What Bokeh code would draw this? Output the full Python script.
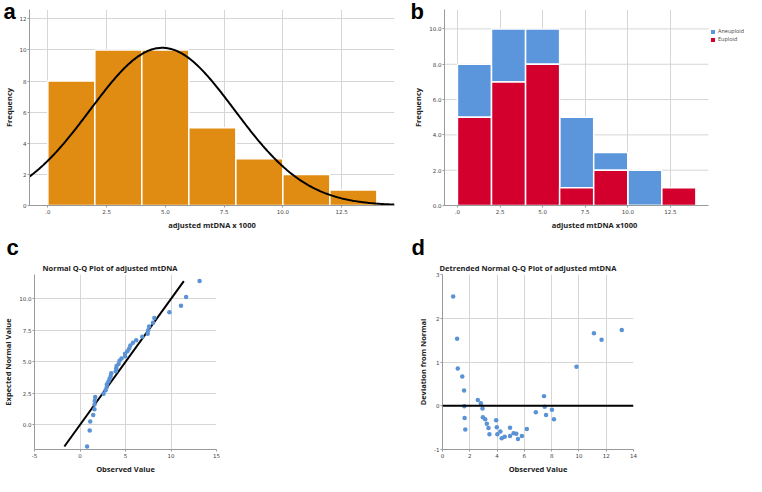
import numpy as np
from bokeh.plotting import figure
from bokeh.models import Legend, LegendItem, FixedTicker, Span, Title
from bokeh.layouts import column, row
from bokeh.embed import file_html
from bokeh.resources import INLINE

# ---------------- data ----------------
bin_lefts = [0, 2, 4, 6, 8, 10, 12]
bin_width = 2
freq_all = [8, 10, 10, 5, 3, 2, 1]
freq_euploid = [5, 7, 8, 1, 2, 0, 1]
freq_aneuploid = [3, 3, 2, 4, 1, 2, 0]
fit_mean = 4.87
fit_sd = 3.07
n_total = 39

observed = [0.78, 1.07, 1.12, 1.45, 1.58, 1.60, 1.62, 1.67, 2.59, 2.81,
            2.93, 2.96, 3.13, 3.25, 3.37, 3.44, 3.93, 3.98, 4.02, 4.24,
            4.34, 4.56, 4.95, 4.95, 5.21, 5.41, 5.53, 5.82, 6.18, 6.84,
            7.44, 7.49, 7.59, 8.02, 8.17, 9.82, 11.10, 11.66, 13.14]
expected = [-1.72, -0.46, 0.27, 0.78, 1.23, 1.61, 1.90, 2.21, 2.46, 2.75,
            2.99, 3.22, 3.44, 3.66, 3.88, 4.09, 4.26, 4.47, 4.67, 4.83,
            5.08, 5.27, 5.45, 5.64, 5.84, 6.05, 6.29, 6.51, 6.71, 6.99,
            7.22, 7.51, 7.80, 8.11, 8.48, 8.93, 9.44, 10.15, 11.41]
deviation = [2.50, 1.53, 0.85, 0.67, 0.35, -0.01, -0.28, -0.54, 0.13, 0.06,
             -0.06, -0.26, -0.31, -0.41, -0.51, -0.65, -0.33, -0.49, -0.65, -0.59,
             -0.74, -0.71, -0.50, -0.69, -0.63, -0.64, -0.76, -0.69, -0.53, -0.15,
             0.22, -0.02, -0.21, -0.09, -0.31, 0.89, 1.66, 1.51, 1.73]

hist_xticks = [0, 2.5, 5, 7.5, 10, 12.5]
hist_xlabels = [".0", "2.5", "5.0", "7.5", "10.0", "12.5"]
a_yticks = [0, 2, 4, 6, 8, 10, 12]
a_ylabels = ["0", "2", "4", "6", "8", "10", "12"]
b_yticks = [0, 2, 4, 6, 8, 10]
b_ylabels = ["0.0", "2.0", "4.0", "6.0", "8.0", "10.0"]
c_xticks = [-5, 0, 5, 10, 15]
c_xlabels = ["-5", "0", "5", "10", "15"]
c_yticks = [0, 2.5, 5, 7.5, 10]
c_ylabels = ["0.0", "2.5", "5.0", "7.5", "10.0"]
d_xticks = [0, 2, 4, 6, 8, 10, 12, 14]
d_xlabels = ["0", "2", "4", "6", "8", "10", "12", "14"]
d_yticks = [-1, 0, 1, 2, 3]
d_ylabels = ["-1", "0", "1", "2", "3"]

ORANGE = "#E08C12"
BLUE = "#5B96DD"
RED = "#D3002E"
PT = "#5A92D6"
GRID = "#D6D6D6"
AXIS = "#9A9A9A"
LABEL_FONT = "Open Sans"
TICK_FONT = "DejaVu Sans"


def style(p, xt, xl, yt, yl, xlabel, ylabel):
    xtk = FixedTicker(ticks=xt)
    ytk = FixedTicker(ticks=yt)
    p.xaxis.ticker = xtk
    p.yaxis.ticker = ytk
    p.xgrid.ticker = xtk
    p.ygrid.ticker = ytk
    p.xaxis.major_label_overrides = {t: l for t, l in zip(xt, xl)}
    p.yaxis.major_label_overrides = {t: l for t, l in zip(yt, yl)}
    for ax in (p.xaxis, p.yaxis):
        ax.axis_line_color = AXIS
        ax.axis_line_width = 1
        ax.major_tick_line_color = AXIS
        ax.major_tick_out = 2
        ax.major_tick_in = 0
        ax.minor_tick_line_color = None
        ax.major_label_text_font = TICK_FONT
        ax.major_label_text_font_size = "5.5px"
        ax.major_label_text_color = "#444444"
        ax.major_label_text_line_height = 1.0
        ax.major_label_standoff = 1
        ax.axis_label_text_font = LABEL_FONT
        ax.axis_label_text_font_size = "7.5px"
        ax.axis_label_text_font_style = "bold"
        ax.axis_label_text_color = "#222222"
        ax.axis_label_text_line_height = 1.0
        ax.axis_label_standoff = 3
    p.xaxis.axis_label = xlabel
    p.yaxis.axis_label = ylabel
    p.xgrid.grid_line_color = GRID
    p.ygrid.grid_line_color = GRID
    p.outline_line_color = None
    p.background_fill_color = "white"
    p.border_fill_color = "white"


def letter(p, txt, offset, standoff):
    p.title.text = txt
    p.title.align = "left"
    p.title.offset = offset
    p.title.standoff = standoff
    p.title.text_font = "Liberation Sans"
    p.title.text_font_style = "bold"
    p.title.text_font_size = "22px"
    p.title.text_color = "black"


def chart_title(p, txt, align, offset):
    p.add_layout(Title(text=txt, align=align, offset=offset, standoff=3,
                       text_font=LABEL_FONT, text_font_style="bold",
                       text_font_size="7.5px", text_color="#222222"), "above")


common = dict(output_backend="svg", toolbar_location=None)

# ---------------- panel a ----------------
pa = figure(width=400, height=232, x_range=(-0.78, 14.75), y_range=(0, 12.6),
            min_border_left=26, min_border_right=6, min_border_top=9,
            min_border_bottom=24, **common)
style(pa, hist_xticks, hist_xlabels, a_yticks, a_ylabels,
      "adjusted mtDNA x 1000", "Frequency")
lefts = np.array(bin_lefts, dtype=float)
pa.quad(left=lefts, right=lefts + bin_width, bottom=0, top=freq_all,
        fill_color=ORANGE, line_color="white", line_width=1.5)
cx = np.linspace(pa.x_range.start, pa.x_range.end, 300)
cy = n_total * bin_width * np.exp(-0.5 * ((cx - fit_mean) / fit_sd) ** 2) / (fit_sd * np.sqrt(2 * np.pi))
pa.line(cx, cy, line_color="black", line_width=2)
letter(pa, "a", -26, -29)

# ---------------- panel b ----------------
# the frame is widened to the right to host the legend; the visible data
# area is -0.76 .. 14.74 (b_data_px), the extra pixels hold the legend
b_x0, b_x1 = -0.76, 14.74
b_data_px, b_frame_px = 264, 300
b_xend = b_x0 + (b_x1 - b_x0) * b_frame_px / b_data_px
pb = figure(width=344, height=232, x_range=(b_x0, b_xend), y_range=(0, 11.1),
            min_border_left=44, min_border_right=0, min_border_top=9,
            min_border_bottom=24, **common)
style(pb, hist_xticks, hist_xlabels, b_yticks, b_ylabels,
      "adjusted mtDNA x1000", "Frequency")
pb.xaxis.bounds = (b_x0, b_x1)
pb.ygrid.grid_line_color = None
pb.segment(x0=b_x0, x1=b_x1, y0=b_yticks, y1=b_yticks, line_color=GRID, line_width=1)
eu = np.array(freq_euploid, dtype=float)
an = np.array(freq_aneuploid, dtype=float)
r_an = pb.quad(left=lefts, right=lefts + bin_width, bottom=eu, top=eu + an,
               fill_color=BLUE, line_color="white", line_width=1.5)
r_eu = pb.quad(left=lefts, right=lefts + bin_width, bottom=0, top=eu,
               fill_color=RED, line_color="white", line_width=1.5)
legend = Legend(items=[LegendItem(label="Aneuploid", renderers=[r_an]),
                       LegendItem(label="Euploid", renderers=[r_eu])],
                location=(b_data_px + 1, 162), glyph_width=7, glyph_height=7,
                label_text_font=LABEL_FONT, label_text_font_size="5.5px",
                label_height=7, label_standoff=2, spacing=0, padding=1,
                margin=0, border_line_color=None, background_fill_alpha=0)
pb.add_layout(legend)
letter(pb, "b", -34, -29)

# ---------------- panel c ----------------
pc = figure(width=400, height=244, x_range=(-5, 15), y_range=(-1.96, 11.93),
            min_border_left=28, min_border_right=184, min_border_top=38,
            min_border_bottom=22, **common)
style(pc, c_xticks, c_xlabels, c_yticks, c_ylabels,
      "Observed Value", "Expected Normal Value")
pc.line([min(expected), max(expected)], [min(expected), max(expected)],
        line_color="black", line_width=2)
pc.scatter(observed, expected, size=4.5, fill_color=PT, line_color=None)
chart_title(pc, "Normal Q-Q Plot of adjusted mtDNA", "left", 8)
letter(pc, "c", -28, 0)

# ---------------- panel d ----------------
pd_ = figure(width=344, height=244, x_range=(0, 14), y_range=(-1, 3),
             min_border_left=42, min_border_right=111, min_border_top=38,
             min_border_bottom=22, **common)
style(pd_, d_xticks, d_xlabels, d_yticks, d_ylabels,
      "Observed Value", "Deviation from Normal")
pd_.add_layout(Span(location=0, dimension="width", line_color="black", line_width=2))
pd_.scatter(observed, deviation, size=4.5, fill_color=PT, line_color=None)
chart_title(pd_, "Detrended Normal Q-Q Plot of adjusted mtDNA", "left", -3)
letter(pd_, "d", -31, 0)

layout = column(row(pa, pb), row(pc, pd_))
open("out.html", "w").write(file_html(layout, INLINE))
